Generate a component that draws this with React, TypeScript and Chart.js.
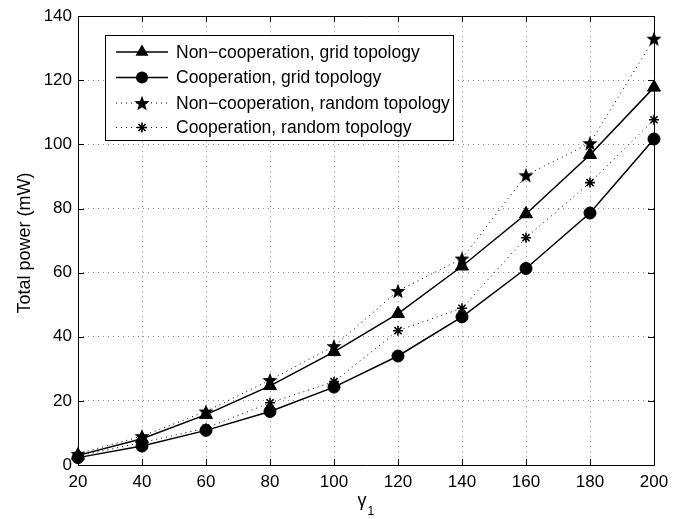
import React, { useEffect, useRef } from 'react';
import { Chart, registerables } from 'chart.js';

Chart.register(...registerables);

const gammaValues = [20, 40, 60, 80, 100, 120, 140, 160, 180, 200];
const nonCoopGrid = [3.0, 8.2, 15.7, 24.7, 35.3, 47.2, 62.0, 78.3, 96.8, 117.8];
const coopGrid = [2.3, 5.9, 10.8, 16.7, 24.3, 34.0, 46.2, 61.3, 78.6, 101.7];
const nonCoopRandom = [3.5, 9.0, 16.7, 26.5, 37.1, 54.3, 64.4, 90.4, 100.4, 133.0];
const coopRandom = [2.8, 7.0, 11.5, 19.4, 26.0, 41.9, 48.9, 70.9, 88.1, 107.7];

const seriesLabels = [
  'Non\u2212cooperation, grid topology',
  'Cooperation, grid topology',
  'Non\u2212cooperation, random topology',
  'Cooperation, random topology',
];
const xTicks = gammaValues;
const yTicks = [0, 20, 40, 60, 80, 100, 120, 140];

const FONT = '"Liberation Sans", Arial, Helvetica, sans-serif';

function makePentagram(r: number): HTMLCanvasElement {
  const size = Math.ceil(r * 2 + 2);
  const c = document.createElement('canvas');
  c.width = size;
  c.height = size;
  const ctx = c.getContext('2d')!;
  const cx = size / 2;
  const cy = size / 2 + r * 0.1;
  const inner = r * 0.42;
  ctx.beginPath();
  for (let i = 0; i < 10; i++) {
    const rad = -Math.PI / 2 + (i * Math.PI) / 5;
    const rr = i % 2 === 0 ? r : inner;
    const px = cx + Math.cos(rad) * rr;
    const py = cy + Math.sin(rad) * rr;
    if (i === 0) ctx.moveTo(px, py);
    else ctx.lineTo(px, py);
  }
  ctx.closePath();
  ctx.fillStyle = '#000';
  ctx.fill();
  return c;
}

function toPoints(vals: number[]) {
  return gammaValues.map((x, i) => ({ x, y: vals[i] }));
}

export default function App() {
  const ref = useRef<HTMLCanvasElement>(null);

  useEffect(() => {
    document.body.style.margin = '0';
    const star = makePentagram(8);

    const framePlugin = {
      id: 'frame',
      afterDatasetsDraw(chart: any) {
        const { ctx, chartArea } = chart;
        const { left, right, top, bottom } = chartArea;
        const xs = chart.scales.x;
        const ys = chart.scales.y;
        ctx.save();
        ctx.strokeStyle = '#000';
        ctx.lineWidth = 1;
        ctx.beginPath();
        ctx.rect(Math.round(left) + 0.5, Math.round(top) + 0.5, Math.round(right - left), Math.round(bottom - top));
        ctx.stroke();
        const tl = 6;
        ctx.beginPath();
        xTicks.forEach((v) => {
          const px = Math.round(xs.getPixelForValue(v)) + 0.5;
          ctx.moveTo(px, bottom);
          ctx.lineTo(px, bottom - tl);
          ctx.moveTo(px, top);
          ctx.lineTo(px, top + tl);
        });
        yTicks.forEach((v) => {
          const py = Math.round(ys.getPixelForValue(v)) + 0.5;
          ctx.moveTo(left, py);
          ctx.lineTo(left + tl, py);
          ctx.moveTo(right, py);
          ctx.lineTo(right - tl, py);
        });
        ctx.stroke();

        // axis titles
        ctx.fillStyle = '#000';
        ctx.font = `18px ${FONT}`;
        ctx.textAlign = 'center';
        ctx.textBaseline = 'middle';
        ctx.save();
        ctx.translate(25, 243);
        ctx.rotate(-Math.PI / 2);
        ctx.fillText('Total power (mW)', 0, 0);
        ctx.restore();

        const cx = (left + right) / 2;
        ctx.textBaseline = 'alphabetic';
        ctx.textAlign = 'left';
        ctx.font = `18px ${FONT}`;
        const gw = ctx.measureText('\u03b3').width;
        ctx.fillText('\u03b3', cx - gw / 2 - 4, 506);
        ctx.font = `12px ${FONT}`;
        ctx.fillText('1', cx + gw / 2 - 3, 515);
        ctx.restore();
      },
      afterDraw(chart: any) {
        const { ctx } = chart;
        const bx = 105, by = 35, bw = 348, bh = 105;
        ctx.save();
        ctx.fillStyle = '#fff';
        ctx.fillRect(bx, by, bw, bh);
        ctx.strokeStyle = '#000';
        ctx.lineWidth = 1;
        ctx.strokeRect(bx + 0.5, by + 0.5, bw, bh);
        const rows = [52, 77.5, 103, 127.5];
        const lx1 = 116, lx2 = 168, mx = 142;
        rows.forEach((ry, i) => {
          ctx.save();
          ctx.strokeStyle = '#000';
          if (i < 2) {
            ctx.lineWidth = 1.5;
            ctx.setLineDash([]);
          } else {
            ctx.lineWidth = 1;
            ctx.setLineDash([1, 4]);
          }
          ctx.beginPath();
          ctx.moveTo(lx1, ry);
          ctx.lineTo(lx2, ry);
          ctx.stroke();
          ctx.restore();
          ctx.fillStyle = '#000';
          ctx.strokeStyle = '#000';
          if (i === 0) {
            const r = 7.5;
            ctx.beginPath();
            ctx.moveTo(mx, ry - r);
            ctx.lineTo(mx + r * Math.sin((2 * Math.PI) / 3), ry - r * Math.cos((2 * Math.PI) / 3));
            ctx.lineTo(mx + r * Math.sin((4 * Math.PI) / 3), ry - r * Math.cos((4 * Math.PI) / 3));
            ctx.closePath();
            ctx.fill();
          } else if (i === 1) {
            ctx.beginPath();
            ctx.arc(mx, ry, 6, 0, Math.PI * 2);
            ctx.fill();
          } else if (i === 2) {
            ctx.drawImage(star, mx - star.width / 2, ry - star.height / 2);
          } else {
            const r = 5;
            ctx.lineWidth = 1.6;
            ctx.beginPath();
            for (let k = 0; k < 4; k++) {
              const a = (k * Math.PI) / 4;
              ctx.moveTo(mx - Math.cos(a) * r, ry - Math.sin(a) * r);
              ctx.lineTo(mx + Math.cos(a) * r, ry + Math.sin(a) * r);
            }
            ctx.stroke();
          }
          ctx.font = `17.5px ${FONT}`;
          ctx.textAlign = 'left';
          ctx.textBaseline = 'middle';
          ctx.fillText(seriesLabels[i], 176, ry + 1);
        });
        ctx.restore();
      },
    };

    const chart = new Chart(ref.current!, {
      type: 'line',
      data: {
        datasets: [
          {
            label: seriesLabels[0],
            data: toPoints(nonCoopGrid),
            borderColor: '#000',
            borderWidth: 1.5,
            pointStyle: 'triangle',
            pointRadius: 7.5,
            pointBackgroundColor: '#000',
            pointBorderColor: '#000',
            pointBorderWidth: 1,
            clip: false,
          },
          {
            label: seriesLabels[1],
            data: toPoints(coopGrid),
            borderColor: '#000',
            borderWidth: 1.5,
            pointStyle: 'circle',
            pointRadius: 6,
            pointBackgroundColor: '#000',
            pointBorderColor: '#000',
            pointBorderWidth: 1,
            clip: false,
          },
          {
            label: seriesLabels[2],
            data: toPoints(nonCoopRandom),
            borderColor: '#000',
            borderWidth: 1,
            borderDash: [1, 4],
            pointStyle: star,
            pointRadius: 8,
            pointBackgroundColor: '#000',
            pointBorderColor: '#000',
            clip: false,
          },
          {
            label: seriesLabels[3],
            data: toPoints(coopRandom),
            borderColor: '#000',
            borderWidth: 1,
            borderDash: [1, 4],
            pointStyle: 'star',
            pointRadius: 5,
            pointBackgroundColor: '#000',
            pointBorderColor: '#000',
            pointBorderWidth: 1.6,
            clip: false,
          },
        ],
      },
      options: {
        responsive: false,
        animation: false,
        layout: { padding: { left: 0, right: 31, top: 12, bottom: 0 } },
        plugins: {
          legend: { display: false },
          tooltip: { enabled: false },
        },
        scales: {
          x: {
            type: 'linear',
            min: 20,
            max: 200,
            afterFit: (s: any) => {
              s.height = 54;
            },
            afterBuildTicks: (s: any) => {
              s.ticks = xTicks.map((v) => ({ value: v }));
            },
            ticks: {
              color: '#000',
              font: { family: FONT, size: 17 },
              padding: 7,
              maxRotation: 0,
              autoSkip: false,
            },
            grid: { color: '#8a8a8a', lineWidth: 1, drawTicks: false },
            border: { display: false, dash: [1, 4] },
          },
          y: {
            min: 0,
            max: 140,
            afterFit: (s: any) => {
              s.width = 78;
            },
            afterBuildTicks: (s: any) => {
              s.ticks = yTicks.map((v) => ({ value: v }));
            },
            ticks: {
              color: '#000',
              font: { family: FONT, size: 17 },
              padding: 6,
              autoSkip: false,
            },
            grid: { color: '#8a8a8a', lineWidth: 1, drawTicks: false },
            border: { display: false, dash: [1, 4] },
          },
        },
      },
      plugins: [framePlugin],
    });
    return () => chart.destroy();
  }, []);

  return (
    <div style={{ width: 685, height: 519, position: 'relative', background: '#fff' }}>
      <canvas ref={ref} width={685} height={519} style={{ display: 'block' }} />
    </div>
  );
}
